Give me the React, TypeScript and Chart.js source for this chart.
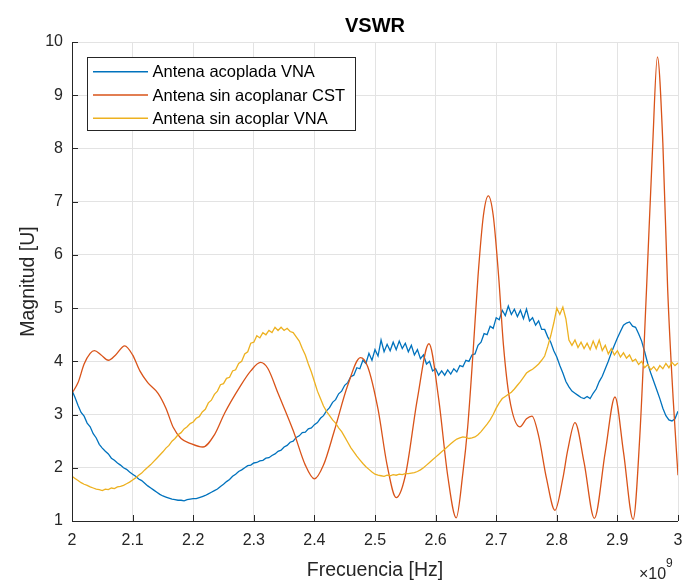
import React, { useEffect, useRef } from "react";
import { Chart, registerables } from "chart.js";

Chart.register(...registerables);

// ---- Data ----
const TITLE = "VSWR";
const X_TITLE = "Frecuencia [Hz]";
const Y_TITLE = "Magnitud [U]";
const seriesNames = ["Antena acoplada VNA", "Antena sin acoplanar CST", "Antena sin acoplar VNA"];
const seriesColors = ["#0072BD", "#D95319", "#EDB120"];

// VNA sweep: 2.000 .. 3.000 GHz every 0.005 GHz (201 samples)
const vnaFreqGHz = Array.from({ length: 201 }, (_, i) => +(2 + i * 0.005).toFixed(3));

const acopladaVNA = [
  3.45, 3.32, 3.17, 3.04, 2.97, 2.84, 2.77, 2.64, 2.56, 2.44,
  2.37, 2.31, 2.26, 2.18, 2.14, 2.09, 2.05, 2.00, 1.97, 1.92,
  1.88, 1.84, 1.79, 1.76, 1.71, 1.66, 1.62, 1.58, 1.54, 1.50,
  1.47, 1.45, 1.43, 1.41, 1.40, 1.39, 1.39, 1.38, 1.40, 1.41,
  1.42, 1.42, 1.44, 1.46, 1.48, 1.51, 1.54, 1.57, 1.60, 1.65,
  1.69, 1.74, 1.78, 1.84, 1.88, 1.93, 1.96, 2.00, 2.04, 2.05,
  2.09, 2.10, 2.13, 2.14, 2.18, 2.19, 2.23, 2.26, 2.31, 2.33,
  2.39, 2.42, 2.48, 2.50, 2.57, 2.60, 2.66, 2.67, 2.73, 2.75,
  2.81, 2.85, 2.93, 2.98, 3.07, 3.13, 3.23, 3.28, 3.39, 3.44,
  3.55, 3.60, 3.71, 3.74, 3.88, 3.86, 4.02, 3.96, 4.15, 4.02,
  4.22, 4.10, 4.40, 4.18, 4.32, 4.20, 4.36, 4.22, 4.38, 4.24,
  4.34, 4.18, 4.30, 4.12, 4.22, 4.05, 4.12, 3.95, 4.00, 3.82,
  3.86, 3.74, 3.82, 3.74, 3.84, 3.76, 3.86, 3.80, 3.92, 3.90,
  4.02, 4.00, 4.12, 4.14, 4.30, 4.36, 4.52, 4.50, 4.66, 4.62,
  4.82, 4.78, 4.96, 4.86, 5.04, 4.88, 4.98, 4.84, 4.96, 4.80,
  4.98, 4.76, 4.82, 4.68, 4.76, 4.60, 4.60, 4.46, 4.36, 4.20,
  4.08, 3.92, 3.78, 3.62, 3.52, 3.44, 3.40, 3.36, 3.32, 3.30,
  3.34, 3.30, 3.40, 3.48, 3.62, 3.72, 3.86, 4.00, 4.16, 4.30,
  4.44, 4.56, 4.68, 4.72, 4.74, 4.66, 4.64, 4.52, 4.38, 4.18,
  3.96, 3.78, 3.62, 3.46, 3.30, 3.12, 2.98, 2.90, 2.88, 2.92,
  3.06,
];

const sinAcoplarVNA = [
  1.84, 1.80, 1.76, 1.72, 1.69, 1.67, 1.64, 1.62, 1.60, 1.59,
  1.57, 1.60, 1.59, 1.62, 1.61, 1.64, 1.65, 1.67, 1.70, 1.73,
  1.77, 1.81, 1.86, 1.90, 1.96, 2.01, 2.06, 2.12, 2.18, 2.24,
  2.30, 2.37, 2.42, 2.50, 2.55, 2.62, 2.66, 2.73, 2.77, 2.83,
  2.86, 2.93, 2.96, 3.05, 3.10, 3.22, 3.27, 3.38, 3.44, 3.56,
  3.58, 3.68, 3.70, 3.82, 3.84, 3.96, 4.00, 4.14, 4.18, 4.34,
  4.36, 4.48, 4.44, 4.54, 4.50, 4.58, 4.54, 4.64, 4.58, 4.64,
  4.58, 4.62, 4.56, 4.54, 4.46, 4.38, 4.24, 4.12, 3.95, 3.80,
  3.62, 3.44, 3.30, 3.16, 3.06, 2.98, 2.90, 2.84, 2.75, 2.68,
  2.58, 2.48, 2.38, 2.30, 2.22, 2.15, 2.08, 2.02, 1.97, 1.92,
  1.88, 1.86, 1.85, 1.84, 1.86, 1.85, 1.87, 1.86, 1.88, 1.87,
  1.89, 1.89, 1.90, 1.91, 1.93, 1.96, 2.00, 2.05, 2.10, 2.15,
  2.20, 2.25, 2.30, 2.35, 2.40, 2.45, 2.50, 2.54, 2.56, 2.58,
  2.57, 2.55, 2.56, 2.58, 2.62, 2.68, 2.75, 2.82, 2.90, 3.00,
  3.12, 3.22, 3.30, 3.34, 3.38, 3.42, 3.48, 3.55, 3.62, 3.70,
  3.78, 3.82, 3.85, 3.90, 3.95, 4.02, 4.10, 4.28, 4.48, 4.72,
  5.00, 4.88, 5.02, 4.80, 4.40, 4.30, 4.40, 4.26, 4.36, 4.24,
  4.34, 4.22, 4.38, 4.24, 4.40, 4.20, 4.30, 4.14, 4.24, 4.12,
  4.20, 4.08, 4.16, 4.06, 4.12, 4.00, 4.04, 3.94, 4.00, 3.88,
  3.94, 3.84, 3.90, 3.82, 3.92, 3.86, 3.96, 3.88, 3.98, 3.92,
  3.97,
];

// CST simulation (smooth)
const cstFreqGHz = [
  2.000, 2.010, 2.020, 2.030, 2.037, 2.048, 2.060, 2.072, 2.087, 2.100,
  2.112, 2.125, 2.142, 2.155, 2.167, 2.180, 2.195, 2.216, 2.235, 2.252,
  2.277, 2.295, 2.311, 2.323, 2.340, 2.365, 2.385, 2.400, 2.415, 2.433,
  2.455, 2.476, 2.488, 2.505, 2.520, 2.535, 2.550, 2.570, 2.589, 2.605,
  2.620, 2.634, 2.645, 2.653, 2.662, 2.670, 2.679, 2.687, 2.695, 2.704,
  2.712, 2.722, 2.739, 2.750, 2.759, 2.770, 2.783, 2.797, 2.810, 2.818,
  2.830, 2.845, 2.862, 2.880, 2.896, 2.910, 2.926, 2.937, 2.948, 2.958,
  2.966, 2.975, 2.983, 2.992, 3.000,
];
const sinAcoplanarCST = [
  3.40, 3.60, 3.95, 4.15, 4.20, 4.12, 4.02, 4.12, 4.29, 4.12,
  3.82, 3.60, 3.40, 3.12, 2.76, 2.55, 2.46, 2.39, 2.62, 3.03,
  3.52, 3.82, 3.98, 3.87, 3.40, 2.70, 2.05, 1.79, 2.05, 2.70,
  3.55, 4.07, 3.90, 3.10, 2.05, 1.44, 1.85, 3.30, 4.33, 3.30,
  1.85, 1.06, 1.90, 2.77, 4.20, 5.60, 6.75, 7.11, 6.75, 5.60,
  4.30, 3.30, 2.77, 2.92, 2.97, 2.60, 1.80, 1.20, 1.80, 2.33,
  2.85, 2.10, 1.05, 2.30, 3.33, 2.30, 1.03, 2.60, 5.34, 8.00,
  9.72, 8.10, 5.34, 3.30, 1.86,
];

const xTicks = [2, 2.1, 2.2, 2.3, 2.4, 2.5, 2.6, 2.7, 2.8, 2.9, 3];
const yTicks = [1, 2, 3, 4, 5, 6, 7, 8, 9, 10];

// ---- Layout constants ----
const W = 686;
const H = 584;
const PLOT_LEFT = 72;
const PLOT_TOP = 42;
const PLOT_RIGHT = 678;
const PLOT_BOTTOM = 521;
const FONT = "'Liberation Sans', Arial, Helvetica, sans-serif";
const TEXT = "#262626";

const decorPlugin = {
  id: "decor",
  afterDraw(chart: any) {
    const ctx = chart.ctx as CanvasRenderingContext2D;
    const { left, right, top, bottom } = chart.chartArea;
    const xs = chart.scales.x;
    const ys = chart.scales.y;
    ctx.save();

    // axes lines (box off) and inward ticks
    ctx.strokeStyle = TEXT;
    ctx.lineWidth = 1;
    ctx.beginPath();
    ctx.moveTo(left + 0.5, top);
    ctx.lineTo(left + 0.5, bottom + 0.5);
    ctx.lineTo(right, bottom + 0.5);
    for (const t of yTicks) {
      const y = Math.round(ys.getPixelForValue(t)) + 0.5;
      ctx.moveTo(left, y);
      ctx.lineTo(left + 6, y);
    }
    for (const t of xTicks) {
      const x = Math.round(xs.getPixelForValue(t)) + 0.5;
      ctx.moveTo(x, bottom);
      ctx.lineTo(x, bottom - 6);
    }
    ctx.stroke();

    // title
    ctx.fillStyle = "#000";
    ctx.font = `bold 20px ${FONT}`;
    ctx.textAlign = "center";
    ctx.textBaseline = "alphabetic";
    ctx.fillText(TITLE, (left + right) / 2, 32);

    // x title
    ctx.fillStyle = TEXT;
    ctx.font = `19.5px ${FONT}`;
    ctx.fillText(X_TITLE, (left + right) / 2, 576);

    // y title
    ctx.save();
    ctx.translate(34, (top + bottom) / 2);
    ctx.rotate(-Math.PI / 2);
    ctx.textAlign = "center";
    ctx.fillText(Y_TITLE, 0, 0);
    ctx.restore();

    // x exponent
    ctx.textAlign = "left";
    ctx.font = `16px ${FONT}`;
    ctx.fillText("\u00d710", 639, 579);
    ctx.font = `12px ${FONT}`;
    ctx.fillText("9", 666, 567);

    // legend
    const lx = 87.5, ly = 57.5, lw = 268, lh = 73;
    ctx.fillStyle = "#fff";
    ctx.fillRect(lx, ly, lw, lh);
    ctx.strokeStyle = "#262626";
    ctx.lineWidth = 1;
    ctx.strokeRect(lx, ly, lw, lh);
    const rows = [71.7, 95, 118.3];
    ctx.font = `16.5px ${FONT}`;
    ctx.textBaseline = "middle";
    seriesNames.forEach((name, i) => {
      ctx.strokeStyle = seriesColors[i];
      ctx.lineWidth = 1.4;
      ctx.beginPath();
      ctx.moveTo(93, rows[i]);
      ctx.lineTo(148, rows[i]);
      ctx.stroke();
      ctx.fillStyle = "#000";
      ctx.fillText(name, 152.5, rows[i] + 1);
    });

    ctx.restore();
  },
};

export default function App() {
  const canvasRef = useRef<HTMLCanvasElement | null>(null);

  useEffect(() => {
    document.body.style.margin = "0";
    const canvas = canvasRef.current;
    if (!canvas) return;

    const toPoints = (xs: number[], ys: number[]) => xs.map((x, i) => ({ x, y: ys[i] }));

    const chart = new Chart(canvas, {
      type: "line",
      data: {
        datasets: [
          {
            label: seriesNames[0],
            data: toPoints(vnaFreqGHz, acopladaVNA),
            borderColor: seriesColors[0],
            borderWidth: 1.3,
            pointRadius: 0,
            tension: 0,
            order: 3,
          },
          {
            label: seriesNames[1],
            data: toPoints(cstFreqGHz, sinAcoplanarCST),
            borderColor: seriesColors[1],
            borderWidth: 1.3,
            pointRadius: 0,
            cubicInterpolationMode: "monotone",
            order: 2,
          },
          {
            label: seriesNames[2],
            data: toPoints(vnaFreqGHz, sinAcoplarVNA),
            borderColor: seriesColors[2],
            borderWidth: 1.3,
            pointRadius: 0,
            tension: 0,
            order: 1,
          },
        ],
      },
      options: {
        responsive: false,
        animation: false,
        events: [],
        layout: { padding: { top: PLOT_TOP, right: W - PLOT_RIGHT, left: 0, bottom: 0 } },
        plugins: {
          legend: { display: false },
          title: { display: false },
          tooltip: { enabled: false },
        },
        scales: {
          x: {
            type: "linear",
            min: 2,
            max: 3,
            afterBuildTicks: (scale: any) => {
              scale.ticks = xTicks.map((v) => ({ value: v }));
            },
            afterFit: (scale: any) => {
              scale.height = H - PLOT_BOTTOM;
              scale.paddingLeft = 0;
              scale.paddingRight = 0;
            },
            ticks: {
              padding: 10,
              color: TEXT,
              font: { family: FONT, size: 16 },
              maxRotation: 0,
              autoSkip: false,
              callback: (v: any) => String(Math.round(Number(v) * 10) / 10),
            },
            grid: { color: "#e3e3e3", lineWidth: 1, drawTicks: false },
            border: { display: false },
          },
          y: {
            type: "linear",
            min: 1,
            max: 10,
            afterBuildTicks: (scale: any) => {
              scale.ticks = yTicks.map((v) => ({ value: v }));
            },
            afterFit: (scale: any) => {
              scale.width = PLOT_LEFT;
              scale.paddingTop = 0;
              scale.paddingBottom = 0;
            },
            ticks: {
              padding: 9,
              color: TEXT,
              font: { family: FONT, size: 16 },
              autoSkip: false,
              callback: (v: any) => String(v),
            },
            grid: { color: "#e3e3e3", lineWidth: 1, drawTicks: false },
            border: { display: false },
          },
        },
      },
      plugins: [decorPlugin],
    });

    return () => chart.destroy();
  }, []);

  return (
    <div style={{ position: "fixed", left: 0, top: 0, width: W, height: H, background: "#fff" }}>
      <canvas ref={canvasRef} width={W} height={H} style={{ width: W, height: H, display: "block" }} />
    </div>
  );
}
